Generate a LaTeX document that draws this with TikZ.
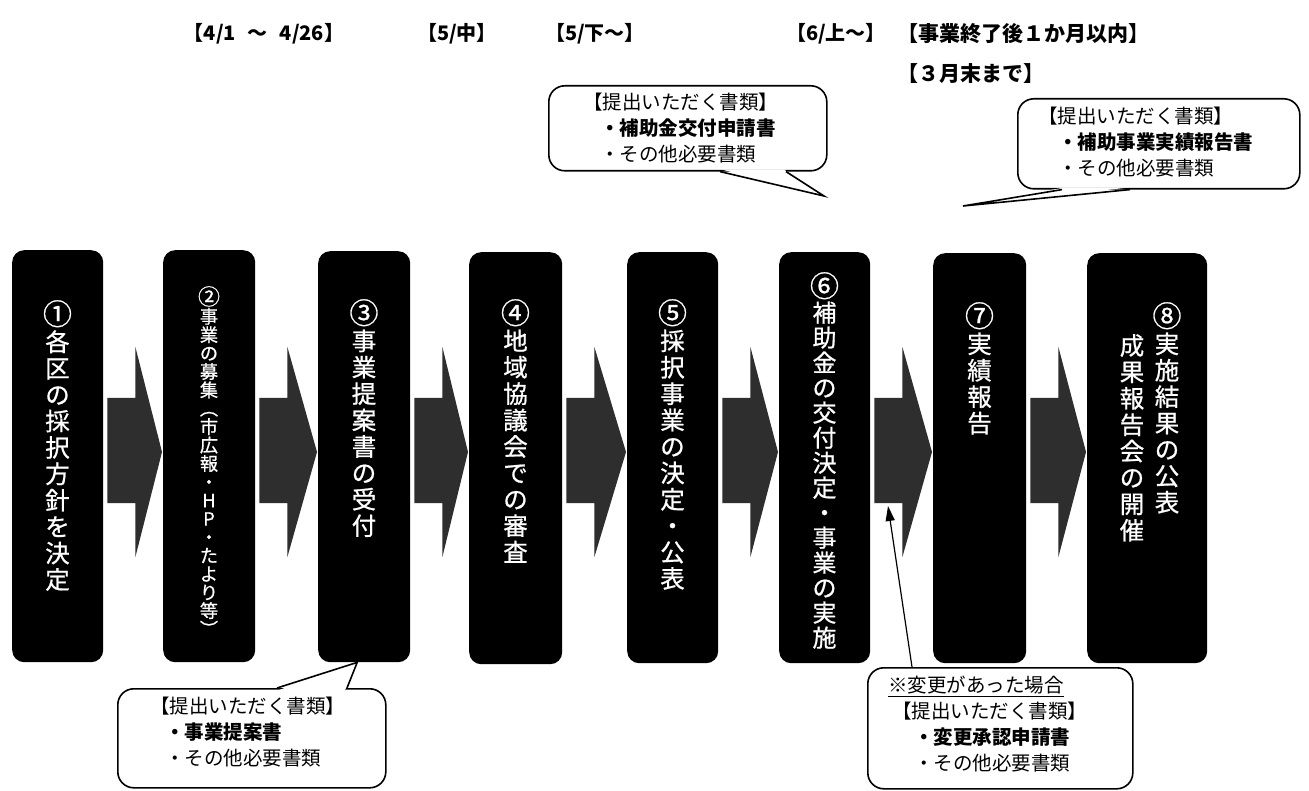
\documentclass[tikz,border=0pt]{standalone}
\usepackage{fontspec}
\setmainfont{Noto Sans CJK JP}
\newfontfamily\bxfont[FakeBold=0.8]{Noto Sans CJK JP}
\usetikzlibrary{calc,arrows.meta}
\newcommand\cnum[1]{{\fontsize{29}{26.4}\selectfont #1}}
\tikzset{
 box/.style={fill=black, rounded corners=12pt, inner sep=0pt, anchor=north west},
 vtxt/.style={text=white, align=center, inner sep=0pt, anchor=north},
 blk/.style={fill=black!82},
 callout/.style={draw=black, line width=1.6pt, fill=white, rounded corners=16pt, inner sep=0pt, anchor=north west},
 wedge/.style={draw=black, line width=1.6pt, line join=miter},
 ctext/.style={align=left, inner sep=0pt, anchor=north west, font=\fontsize{19.5}{26}\selectfont},
 head/.style={font=\bfseries\fontsize{20}{24}\selectfont, inner sep=0pt},
}
\newcommand\blockarr[2]{%
 \path[blk] let \p1=(#1.east), \p2=(#2.west) in
  (\x1+4pt,-398pt) -- (\x1+32pt,-398pt) -- (\x1+32pt,-347pt) -- (\x2-1pt,-452pt)
  -- (\x1+32pt,-557pt) -- (\x1+32pt,-503pt) -- (\x1+4pt,-503pt) -- cycle;}
\begin{document}
\begin{tikzpicture}[x=1pt,y=1pt]
\fill[white] (0,0) rectangle (1309,-791);
\useasboundingbox (0,0) rectangle (1309,-791);

% header
\node[head] (h1) at (264,-34) {【4/1\hspace{12pt}～\hspace{12pt}4/26】};
\node[head] (h2) at (457,-34) {【5/中】};
\node[head] (h3) at (595,-34) {【5/下～】};
\node[head] (h4) at (836,-34) {【6/上～】};
\node[head, anchor=west, font=\bfseries\fontsize{21}{24}\selectfont] (h5) at (897,-34) {【事業終了後１か月以内】};
\node[head, anchor=west, font=\bfseries\fontsize{21}{24}\selectfont] (h6) at (897,-74) {【３月末まで】};

% boxes
\node[box, minimum width=91pt, minimum height=412pt] (b1) at (12,-250) {};
\node[box, minimum width=92pt, minimum height=412pt] (b2) at (163,-250) {};
\node[box, minimum width=92pt, minimum height=411pt] (b3) at (318,-251) {};
\node[box, minimum width=93pt, minimum height=412pt] (b4) at (469,-252) {};
\node[box, minimum width=91pt, minimum height=411pt] (b5) at (627,-252) {};
\node[box, minimum width=91pt, minimum height=411pt] (b6) at (779,-252) {};
\node[box, minimum width=93pt, minimum height=410pt] (b7) at (933,-253) {};
\node[box, minimum width=120pt, minimum height=410pt] (b8) at (1087,-253) {};

% box texts
\node[vtxt, font=\bxfont\fontsize{24.5}{26.4}\selectfont] (t1) at (57.5,-300) {\cnum{①}\\各\\区\\の\\採\\択\\方\\針\\を\\決\\定};
\node[vtxt, font=\bxfont\fontsize{18.2}{18.4}\selectfont] (t2) at (209,-286) {{\fontsize{22}{18.4}\selectfont ②}\\事\\業\\の\\募\\集\\︵\\市\\広\\報\\・\\H\\P\\・\\た\\よ\\り\\等\\︶};
\node[vtxt, font=\bxfont\fontsize{24.5}{26.4}\selectfont] (t3) at (364,-299) {\cnum{③}\\事\\業\\提\\案\\書\\の\\受\\付};
\node[vtxt, font=\bxfont\fontsize{24.5}{26.4}\selectfont] (t4) at (515.5,-299) {\cnum{④}\\地\\域\\協\\議\\会\\で\\の\\審\\査};
\node[vtxt, font=\bxfont\fontsize{24.5}{26.4}\selectfont] (t5) at (672.5,-299) {\cnum{⑤}\\採\\択\\事\\業\\の\\決\\定\\・\\公\\表};
\node[vtxt, font=\bxfont\fontsize{24}{25}\selectfont] (t6) at (824.5,-272) {\cnum{⑥}\\補\\助\\金\\の\\交\\付\\決\\定\\・\\事\\業\\の\\実\\施};
\node[vtxt, font=\bxfont\fontsize{24.5}{26.4}\selectfont] (t7) at (979.5,-302) {\cnum{⑦}\\実\\績\\報\\告};
\node[vtxt, font=\bxfont\fontsize{24.5}{26.4}\selectfont] (t8a) at (1167,-302) {\cnum{⑧}\\実\\施\\結\\果\\の\\公\\表};
\node[vtxt, font=\bxfont\fontsize{24.5}{26.4}\selectfont] (t8b) at (1132,-334) {成\\果\\報\\告\\会\\の\\開\\催};

% block arrows
\blockarr{b1}{b2}
\blockarr{b2}{b3}
\blockarr{b3}{b4}
\blockarr{b4}{b5}
\blockarr{b5}{b6}
\blockarr{b6}{b7}
\blockarr{b7}{b8}

% callout A (top, step 6)
\node[callout, minimum width=278pt, minimum height=85pt] (cA) at (548,-85) {};
\coordinate (tipA) at (824,-196);
\fill[white] ($(cA.south west)+(174,2)$) -- ($(cA.south west)+(236,2)$) -- (tipA) -- cycle;
\draw[wedge] ($(cA.south west)+(172,0)$) -- (tipA) -- ($(cA.south west)+(238,0)$);
\node[ctext] (cAt) at (583,-93) {【提出いただく書類】\\\hspace*{17pt}\textbf{・補助金交付申請書}\\\hspace*{17pt}・その他必要書類};

% callout B (top, step 7)
\node[callout, minimum width=282pt, minimum height=90pt] (cB) at (1017,-98) {};
\coordinate (tipB) at (963,-206);
\fill[white] ($(cB.south west)+(47,2)$) -- ($(cB.south west)+(111,2)$) -- (tipB) -- cycle;
\draw[wedge] ($(cB.south west)+(45,0)$) -- (tipB) -- ($(cB.south west)+(113,0)$);
\node[ctext] (cBt) at (1038,-107) {【提出いただく書類】\\\hspace*{20pt}\textbf{・補助事業実績報告書}\\\hspace*{20pt}・その他必要書類};

% callout C (bottom, step 3)
\node[callout, minimum width=268pt, minimum height=99pt] (cC) at (117,-688) {};
\coordinate (tipC) at ($(b3.south)+(-7,0)$);
\fill[white] ($(cC.north west)+(162,-2)$) -- ($(cC.north west)+(228,-2)$) -- (tipC) -- cycle;
\draw[wedge] ($(cC.north west)+(160,0)$) -- (tipC) -- ($(cC.north west)+(230,0)$);
\node[ctext] (cCt) at (150,-697) {【提出いただく書類】\\\hspace*{15pt}\textbf{・事業提案書}\\\hspace*{15pt}・その他必要書類};

% callout D (bottom, change)
\node[callout, minimum width=265pt, minimum height=121pt] (cD) at (867,-667) {};
\node[ctext] (cDt) at (888,-676) {\underline{※変更があった場合}\\\hspace*{4pt}【提出いただく書類】\\\hspace*{26pt}\textbf{・変更承認申請書}\\\hspace*{26pt}・その他必要書類};
\coordinate (a6b) at (888,-506);
\draw[line width=1.2pt, -{Triangle[length=15pt,width=9pt]}] ($(cD.north west)+(45,0)$) -- (a6b);
\end{tikzpicture}
\end{document}
